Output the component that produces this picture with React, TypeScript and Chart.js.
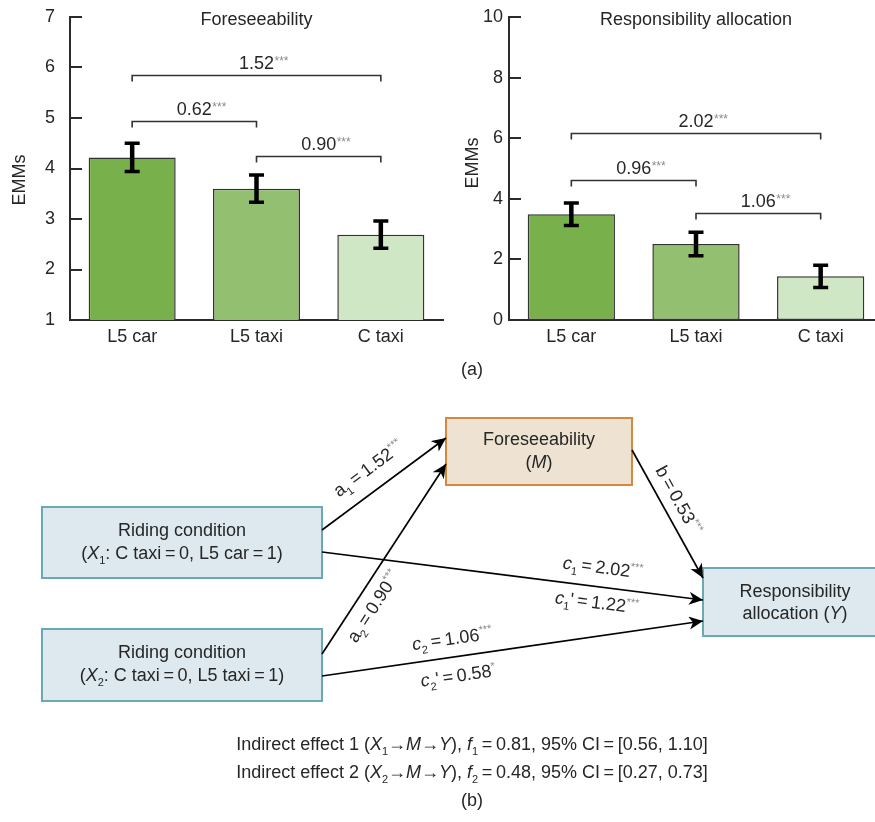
import React, { useEffect, useRef } from "react";
import { Chart, registerables } from "chart.js";

Chart.register(...registerables);

const FONT = "'Liberation Sans', Arial, Helvetica, sans-serif";
Chart.defaults.font.family = FONT;

// ---------- data ----------
const categories = ["L5 car", "L5 taxi", "C taxi"];
const barColors = ["#78b04b", "#92c070", "#d0e7c5"];

const foreseeMeans = [4.22, 3.6, 2.69];
const foreseeErrors = [0.28, 0.27, 0.27];
const foreseeTicks = [1, 2, 3, 4, 5, 6, 7];
const foreseeBrFrom = [0, 0, 1];
const foreseeBrTo = [2, 1, 2];
const foreseeBrLevel = [5.85, 4.95, 4.25];
const foreseeBrText = ["1.52", "0.62", "0.90"];
const foreseeBrStars = ["***", "***", "***"];

const respMeans = [3.49, 2.51, 1.44];
const respErrors = [0.37, 0.39, 0.37];
const respTicks = [0, 2, 4, 6, 8, 10];
const respBrFrom = [0, 0, 1];
const respBrTo = [2, 1, 2];
const respBrLevel = [6.16, 4.62, 3.52];
const respBrText = ["2.02", "0.96", "1.06"];
const respBrStars = ["***", "***", "***"];

const aCoefs = ["1.52", "0.90"];
const bCoef = "0.53";
const cTotal = ["2.02", "1.06"];
const cTotalStars = ["***", "***"];
const cDirect = ["1.22", "0.58"];
const cDirectStars = ["***", "*"];
const indirectF = ["0.81", "0.48"];
const indirectLow = ["0.56", "0.27"];
const indirectHigh = ["1.10", "0.73"];

// ---------- styles ----------
const AXIS = "#2b2b2b";
const TXT = "#262626";
const STAR = "#8c8c8c";
const EQ = "\u2009=\u2009";

type PanelProps = {
  left: number;
  title: string;
  means: number[];
  errors: number[];
  ticks: number[];
  yAxisWidth: number;
  yTickPad: number;
  emmX: number;
  emmY: number;
  brFrom: number[];
  brTo: number[];
  brLevel: number[];
  brText: string[];
  brStars: string[];
};

function BarPanel(p: PanelProps) {
  const ref = useRef<HTMLCanvasElement>(null);
  useEffect(() => {
    const overlay = {
      id: "overlay",
      afterDatasetsDraw(chart: any) {
        const { ctx, chartArea: a, scales } = chart;
        const y = scales.y;
        const meta = chart.getDatasetMeta(0);
        ctx.save();
        // inward ticks
        ctx.strokeStyle = AXIS;
        ctx.lineWidth = 2;
        p.ticks.forEach((v) => {
          const py = Math.round(y.getPixelForValue(v));
          ctx.beginPath();
          ctx.moveTo(a.left, py);
          ctx.lineTo(a.left + 12, py);
          ctx.stroke();
        });
        // error bars
        ctx.strokeStyle = "#000";
        meta.data.forEach((bar: any, i: number) => {
          const cx = bar.x;
          const top = y.getPixelForValue(p.means[i] + p.errors[i]);
          const bot = y.getPixelForValue(p.means[i] - p.errors[i]);
          ctx.lineWidth = 4.5;
          ctx.beginPath();
          ctx.moveTo(cx, top);
          ctx.lineTo(cx, bot);
          ctx.stroke();
          ctx.lineWidth = 3.5;
          ctx.beginPath();
          ctx.moveTo(cx - 7.5, top);
          ctx.lineTo(cx + 7.5, top);
          ctx.moveTo(cx - 7.5, bot);
          ctx.lineTo(cx + 7.5, bot);
          ctx.stroke();
        });
        // brackets
        ctx.strokeStyle = "#333";
        ctx.lineWidth = 1.6;
        p.brFrom.forEach((f, i) => {
          const x1 = meta.data[f].x;
          const x2 = meta.data[p.brTo[i]].x;
          const py = Math.round(y.getPixelForValue(p.brLevel[i])) + 0.5;
          ctx.beginPath();
          ctx.moveTo(x1, py + 6);
          ctx.lineTo(x1, py);
          ctx.lineTo(x2, py);
          ctx.lineTo(x2, py + 6);
          ctx.stroke();
          const cx = (x1 + x2) / 2;
          ctx.font = `18px ${FONT}`;
          ctx.fillStyle = TXT;
          ctx.textAlign = "center";
          ctx.textBaseline = "alphabetic";
          ctx.fillText(p.brText[i], cx, py - 7);
          const w = ctx.measureText(p.brText[i]).width;
          ctx.font = `12px ${FONT}`;
          ctx.fillStyle = STAR;
          ctx.textAlign = "left";
          ctx.fillText(p.brStars[i], cx + w / 2 + 0.5, py - 7 - 4);
        });
        // title
        ctx.font = `18px ${FONT}`;
        ctx.fillStyle = TXT;
        ctx.textAlign = "center";
        ctx.textBaseline = "alphabetic";
        ctx.fillText(p.title, (a.left + a.right) / 2, 25);
        // y label
        ctx.translate(p.emmX, p.emmY);
        ctx.rotate(-Math.PI / 2);
        ctx.textBaseline = "middle";
        ctx.fillText("EMMs", 0, 0);
        ctx.restore();
      },
    };
    const chart = new Chart(ref.current!, {
      type: "bar",
      data: {
        labels: categories,
        datasets: [
          {
            data: p.means,
            backgroundColor: barColors,
            borderColor: "#333",
            borderWidth: 1.5,
            borderSkipped: false,
            barPercentage: 0.7,
            categoryPercentage: 1,
          },
        ],
      },
      options: {
        animation: false,
        responsive: false,
        maintainAspectRatio: false,
        layout: { padding: { top: 17, right: 2, left: 0, bottom: 0 } },
        plugins: {
          legend: { display: false },
          tooltip: { enabled: false },
          title: { display: false },
        },
        scales: {
          x: {
            grid: { display: false, drawTicks: false },
            border: { display: true, color: AXIS, width: 2 },
            ticks: { color: TXT, font: { size: 18, family: FONT }, padding: 6 },
            afterFit: (s: any) => {
              s.height = 40;
            },
          },
          y: {
            min: p.ticks[0],
            max: p.ticks[p.ticks.length - 1],
            afterBuildTicks: (s: any) => {
              s.ticks = p.ticks.map((v) => ({ value: v }));
            },
            grid: { display: false, drawTicks: false },
            border: { display: true, color: AXIS, width: 2 },
            ticks: { color: TXT, font: { size: 18, family: FONT }, padding: p.yTickPad },
            afterFit: (s: any) => {
              s.width = p.yAxisWidth;
              s.paddingTop = 0;
              s.paddingBottom = 0;
            },
          },
        },
      },
      plugins: [overlay],
    } as any);
    return () => chart.destroy();
  }, []);
  return (
    <canvas
      ref={ref}
      width={445}
      height={360}
      style={{ position: "absolute", left: p.left, top: 0, width: 445, height: 360 }}
    />
  );
}

function Sub({ t }: { t: string }) {
  return (
    <>
      <tspan fontSize={11} dy={5}>
        {t}
      </tspan>
      <tspan dy={-5}>{"\u200b"}</tspan>
    </>
  );
}

function Coef(props: {
  x: number;
  y: number;
  angle: number;
  letter: string;
  sub?: string;
  prime?: boolean;
  italic?: boolean;
  value: string;
  stars: string;
}) {
  const { x, y, angle, letter, sub, prime, italic, value, stars } = props;
  return (
    <text transform={`translate(${x},${y}) rotate(${angle})`} y={6.5} textAnchor="middle" fontSize={18} fill={TXT}>
      <tspan fontStyle={italic ? "italic" : "normal"}>{letter}</tspan>
      {sub ? (
        <tspan fontSize={11} dy={5}>
          {sub}
        </tspan>
      ) : null}
      <tspan dy={sub ? -5 : 0}>
        {prime ? "'" : ""}
        {EQ}
        {value}
      </tspan>
      <tspan fontSize={11} fill={STAR} dy={-7}>
        {stars}
      </tspan>
    </text>
  );
}

function Diagram() {
  const BLUE_FILL = "#dde9ee";
  const BLUE_STROKE = "#6aa8b6";
  const OR_FILL = "#eee3d2";
  const OR_STROKE = "#d6893b";
  const line = { stroke: "#000", strokeWidth: 1.7, fill: "none", markerEnd: "url(#arr)" };
  return (
    <svg
      width={875}
      height={822}
      style={{ position: "absolute", left: 0, top: 0, fontFamily: FONT }}
    >
      <defs>
        <marker id="arr" markerUnits="userSpaceOnUse" markerWidth={15} markerHeight={14} refX={14} refY={6.5} orient="auto">
          <path d="M0,0 L14,6.5 L0,13 L4,6.5 z" fill="#000" />
        </marker>
      </defs>
      <text x={472} y={375} textAnchor="middle" fontSize={18} fill={TXT}>
        (a)
      </text>

      {/* boxes */}
      <rect x={42} y={507} width={280} height={71} fill={BLUE_FILL} stroke={BLUE_STROKE} strokeWidth={2} />
      <rect x={42} y={629} width={280} height={72} fill={BLUE_FILL} stroke={BLUE_STROKE} strokeWidth={2} />
      <rect x={446} y={418} width={186} height={67} fill={OR_FILL} stroke={OR_STROKE} strokeWidth={2} />
      <rect x={703} y={568} width={184} height={68} fill={BLUE_FILL} stroke={BLUE_STROKE} strokeWidth={2} />

      <text x={182} y={536} textAnchor="middle" fontSize={18} fill={TXT}>
        Riding condition
      </text>
      <text x={182} y={559} textAnchor="middle" fontSize={18} fill={TXT}>
        (<tspan fontStyle="italic">X</tspan>
        <Sub t="1" />
        {`: C taxi${EQ}0, L5 car${EQ}1)`}
      </text>
      <text x={182} y={658} textAnchor="middle" fontSize={18} fill={TXT}>
        Riding condition
      </text>
      <text x={182} y={681} textAnchor="middle" fontSize={18} fill={TXT}>
        (<tspan fontStyle="italic">X</tspan>
        <Sub t="2" />
        {`: C taxi${EQ}0, L5 taxi${EQ}1)`}
      </text>
      <text x={539} y={445} textAnchor="middle" fontSize={18} fill={TXT}>
        Foreseeability
      </text>
      <text x={539} y={468} textAnchor="middle" fontSize={18} fill={TXT}>
        (<tspan fontStyle="italic">M</tspan>)
      </text>
      <text x={795} y={597} textAnchor="middle" fontSize={18} fill={TXT}>
        Responsibility
      </text>
      <text x={795} y={619} textAnchor="middle" fontSize={18} fill={TXT}>
        allocation (<tspan fontStyle="italic">Y</tspan>)
      </text>

      {/* arrows */}
      <line x1={322} y1={530} x2={446} y2={438} {...line} />
      <line x1={322} y1={654} x2={446} y2={464} {...line} />
      <line x1={632} y1={450} x2={703} y2={578} {...line} />
      <line x1={322} y1={552} x2={703} y2={600} {...line} />
      <line x1={322} y1={676} x2={703} y2={621} {...line} />

      {/* coefficient labels */}
      <Coef x={368} y={468} angle={-36.6} letter="a" sub="1" value={aCoefs[0]} stars="***" />
      <Coef x={373} y={606} angle={-57} letter="a" sub="2" value={aCoefs[1]} stars="***" />
      <Coef x={679} y={500} angle={61} letter="b" value={bCoef} stars="***" />
      <Coef x={603} y={567} angle={7.2} letter="c" italic sub="1" value={cTotal[0]} stars={cTotalStars[0]} />
      <Coef x={597} y={602} angle={7.2} letter="c" italic sub="1" prime value={cDirect[0]} stars={cDirectStars[0]} />
      <Coef x={452} y={638} angle={-8.2} letter="c" italic sub="2" value={cTotal[1]} stars={cTotalStars[1]} />
      <Coef x={458} y={675} angle={-8.2} letter="c" italic sub="2" prime value={cDirect[1]} stars={cDirectStars[1]} />

      {/* indirect effects */}
      {[0, 1].map((i) => (
        <text key={i} x={472} y={750 + i * 28} textAnchor="middle" fontSize={18} fill={TXT}>
          {`Indirect effect ${i + 1} (`}
          <tspan fontStyle="italic">X</tspan>
          <Sub t={`${i + 1}`} />
          {"\u2192"}
          <tspan fontStyle="italic">M</tspan>
          {"\u2192"}
          <tspan fontStyle="italic">Y</tspan>
          {"), "}
          <tspan fontStyle="italic">f</tspan>
          <Sub t={`${i + 1}`} />
          {`${EQ}${indirectF[i]}, 95% CI${EQ}[${indirectLow[i]}, ${indirectHigh[i]}]`}
        </text>
      ))}
      <text x={472} y={806} textAnchor="middle" fontSize={18} fill={TXT}>
        (b)
      </text>
    </svg>
  );
}

export default function App() {
  return (
    <div
      style={{
        position: "absolute",
        left: 0,
        top: 0,
        width: 875,
        height: 822,
        overflow: "hidden",
        background: "#fff",
      }}
    >
      <BarPanel
        left={0}
        title="Foreseeability"
        means={foreseeMeans}
        errors={foreseeErrors}
        ticks={foreseeTicks}
        yAxisWidth={70}
        yTickPad={15}
        emmX={20}
        emmY={180}
        brFrom={foreseeBrFrom}
        brTo={foreseeBrTo}
        brLevel={foreseeBrLevel}
        brText={foreseeBrText}
        brStars={foreseeBrStars}
      />
      <BarPanel
        left={440}
        title="Responsibility allocation"
        means={respMeans}
        errors={respErrors}
        ticks={respTicks}
        yAxisWidth={69}
        yTickPad={6}
        emmX={33}
        emmY={163}
        brFrom={respBrFrom}
        brTo={respBrTo}
        brLevel={respBrLevel}
        brText={respBrText}
        brStars={respBrStars}
      />
      <Diagram />
    </div>
  );
}
